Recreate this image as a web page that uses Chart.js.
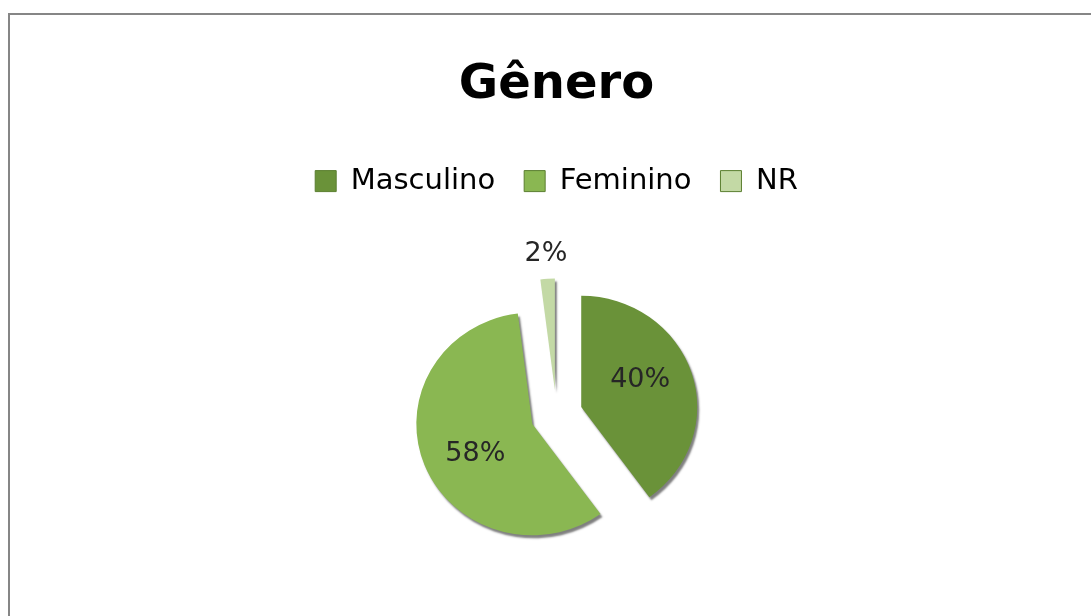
<!DOCTYPE html>
<html>
<head>
<meta charset="utf-8">
<title>Gênero</title>
<script src="https://cdn.jsdelivr.net/npm/chart.js@4.4.1/dist/chart.umd.min.js"></script>
<style>
  html, body { margin: 0; padding: 0; background: #fff; overflow: hidden; }
  body { width: 1091px; height: 616px; position: relative; }
  .frame {
    position: absolute; left: 8px; top: 13px; width: 1200px; height: 700px;
    border-left: 2px solid #868686; border-top: 2px solid #868686;
  }
  .wrap { position: absolute; left: 0; top: 0; width: 1091px; height: 624px; }
</style>
</head>
<body>
<div class="frame"></div>
<div class="wrap"><canvas id="generoChart" width="1091" height="624"></canvas></div>
<script>
var categories = ["Masculino", "Feminino", "NR"];
var percentValues = [40, 58, 2];
var sliceColors = ["#6a9239", "#8ab752", "#c3d9a5"];

(function () {
  var EXPLODE = 26;
  var TILT = 0.96; // slight vertical squash, like the Excel pie
  var textColor = "#262626";

  // pulls each slice out along its bisector (Excel style exploded pie)
  var explodePlugin = {
    id: "explodeSlices",
    beforeDatasetDraw: function (chart, args) {
      var ctx = chart.ctx;
      args.meta.data.forEach(function (arc) {
        var mid = (arc.startAngle + arc.endAngle) / 2;
        ctx.save();
        ctx.shadowColor = "rgba(0, 0, 0, 0.5)";
        ctx.shadowBlur = 2;
        ctx.shadowOffsetX = 2;
        ctx.shadowOffsetY = 3;
        ctx.translate(arc.x, arc.y);
        ctx.scale(1, TILT);
        ctx.translate(-arc.x, -arc.y);
        ctx.translate(Math.cos(mid) * EXPLODE, Math.sin(mid) * EXPLODE);
        arc.draw(ctx, chart.chartArea);
        ctx.restore();
      });
      return false;
    },
  };

  var pctLabelPlugin = {
    id: "pctLabels",
    afterDatasetsDraw: function (chart) {
      var ctx = chart.ctx;
      var meta = chart.getDatasetMeta(0);
      ctx.save();
      ctx.font = "27px 'DejaVu Sans'";
      ctx.fillStyle = textColor;
      ctx.textAlign = "center";
      ctx.textBaseline = "middle";
      meta.data.forEach(function (arc, i) {
        var mid = (arc.startAngle + arc.endAngle) / 2;
        var v = percentValues[i];
        var r, a;
        if (v < 5) {
          r = EXPLODE + arc.outerRadius + 26;
          a = mid;
        } else {
          r = EXPLODE + arc.outerRadius * 0.56;
          a = mid - 0.09;
        }
        ctx.fillText(v + "%", arc.x + Math.cos(a) * r, arc.y + Math.sin(a) * r * TILT);
      });
      ctx.restore();
    },
  };

  new Chart(document.getElementById("generoChart"), {
    type: "pie",
    data: {
      labels: categories,
      datasets: [
        {
          data: percentValues,
          backgroundColor: sliceColors,
          borderWidth: 0,
          radius: 116,
        },
      ],
    },
    options: {
      responsive: false,
      animation: false,
      layout: { padding: { top: 28, left: 22, right: 0, bottom: 0 } },
      plugins: {
        title: {
          display: true,
          text: "Gênero",
          color: "#000",
          font: { family: "'DejaVu Sans'", size: 48, weight: "bold" },
          padding: { top: 29, bottom: 23 },
        },
        legend: {
          position: "top",
          labels: {
            color: textColor,
            font: { family: "'DejaVu Sans'", size: 29 },
            boxWidth: 21,
            boxHeight: 21,
            padding: 29,
            generateLabels: function (chart) {
              return categories.map(function (c, i) {
                return {
                  text: c,
                  fillStyle: sliceColors[i],
                  strokeStyle: "#5b7f30",
                  lineWidth: 1,
                  index: i,
                };
              });
            },
          },
        },
        tooltip: { enabled: false },
      },
    },
    plugins: [explodePlugin, pctLabelPlugin],
  });
})();
</script>
</body>
</html>
